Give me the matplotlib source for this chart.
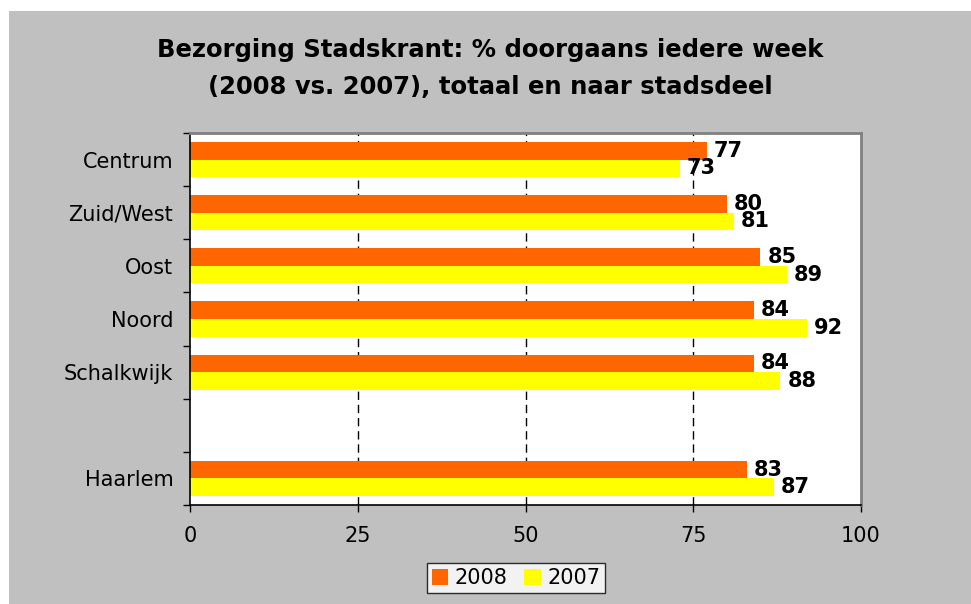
import numpy as np
import matplotlib.pyplot as plt
from matplotlib.patches import Rectangle, Patch

# Data
categories = ['Centrum', 'Zuid/West', 'Oost', 'Noord', 'Schalkwijk', '', 'Haarlem']
values_2008 = [77, 80, 85, 84, 84, None, 83]
values_2007 = [73, 81, 89, 92, 88, None, 87]
series_labels = ['2008', '2007']
x_ticks = [0, 25, 50, 75, 100]

orange = '#FF6600'
yellow = '#FFFF00'
bg = '#C0C0C0'

fig = plt.figure(figsize=(9.71, 6.04), dpi=100)
fig.patch.set_facecolor('white')
# grey chart area (leaves a thin white strip at top/left like the original)
fig.patches.append(Rectangle((9 / 971, 0), 1, 1 - 11 / 604, transform=fig.transFigure,
                             facecolor=bg, edgecolor='none', zorder=-1))

ax = fig.add_axes([190 / 971, 1 - 505 / 604, (861 - 190) / 971, (505 - 133) / 604])
ax.set_facecolor('white')

pos = np.arange(len(categories))
h = 0.33
for i, (a, b) in enumerate(zip(values_2008, values_2007)):
    if a is None:
        continue
    ax.barh(pos[i] - h / 2, a, height=h, color=orange, zorder=2)
    ax.barh(pos[i] + h / 2, b, height=h, color=yellow, zorder=2)
    ax.annotate(f'{a}', (a, pos[i] - h / 2), xytext=(5, 0), textcoords='offset points',
                va='center', ha='left', fontsize=15, fontweight='bold', zorder=3)
    ax.annotate(f'{b}', (b, pos[i] + h / 2), xytext=(5, 0), textcoords='offset points',
                va='center', ha='left', fontsize=15, fontweight='bold', zorder=3)

ax.set_xlim(0, 100)
ax.set_ylim(len(categories) - 0.5, -0.5)

# dashed vertical gridlines
for xv in x_ticks[1:-1]:
    ax.axvline(xv, color='black', linestyle=(0, (6, 3.5)), linewidth=1, zorder=1)

ax.set_xticks(x_ticks)
ax.set_xticklabels([str(v) for v in x_ticks], fontsize=15)
ax.tick_params(axis='x', direction='out', length=5, width=1, pad=10)

# category ticks sit between categories, labels in the middle
ax.set_yticks(np.arange(-0.5, len(categories), 1.0))
ax.set_yticklabels([])
ax.set_yticks(pos, minor=True)
ax.set_yticklabels(categories, minor=True, fontsize=15)
ax.tick_params(axis='y', which='major', direction='out', length=5, width=1)
ax.tick_params(axis='y', which='minor', length=0, pad=12)

for side in ['left', 'bottom']:
    ax.spines[side].set_color('black')
    ax.spines[side].set_linewidth(1.2)
for side in ['top', 'right']:
    ax.spines[side].set_color('#808080')
    ax.spines[side].set_linewidth(2)

fig.text(0.505, 0.918, 'Bezorging Stadskrant: % doorgaans iedere week', ha='center', va='center',
         fontsize=17.5, fontweight='bold')
fig.text(0.505, 0.856, '(2008 vs. 2007), totaal en naar stadsdeel', ha='center', va='center',
         fontsize=17.5, fontweight='bold')

handles = [Patch(facecolor=orange, edgecolor='none', label=series_labels[0]),
           Patch(facecolor=yellow, edgecolor='none', label=series_labels[1])]
leg = fig.legend(handles=handles, loc='center', bbox_to_anchor=(516 / 971, 1 - 578 / 604), ncol=2,
                 fontsize=15, frameon=True, fancybox=False, handlelength=0.8, handleheight=0.8,
                 handletextpad=0.3, columnspacing=0.8, borderpad=0.25, borderaxespad=0)
leg.get_frame().set_edgecolor('black')
leg.get_frame().set_linewidth(1)

fig.savefig('out.png', dpi=100, facecolor=fig.get_facecolor())
